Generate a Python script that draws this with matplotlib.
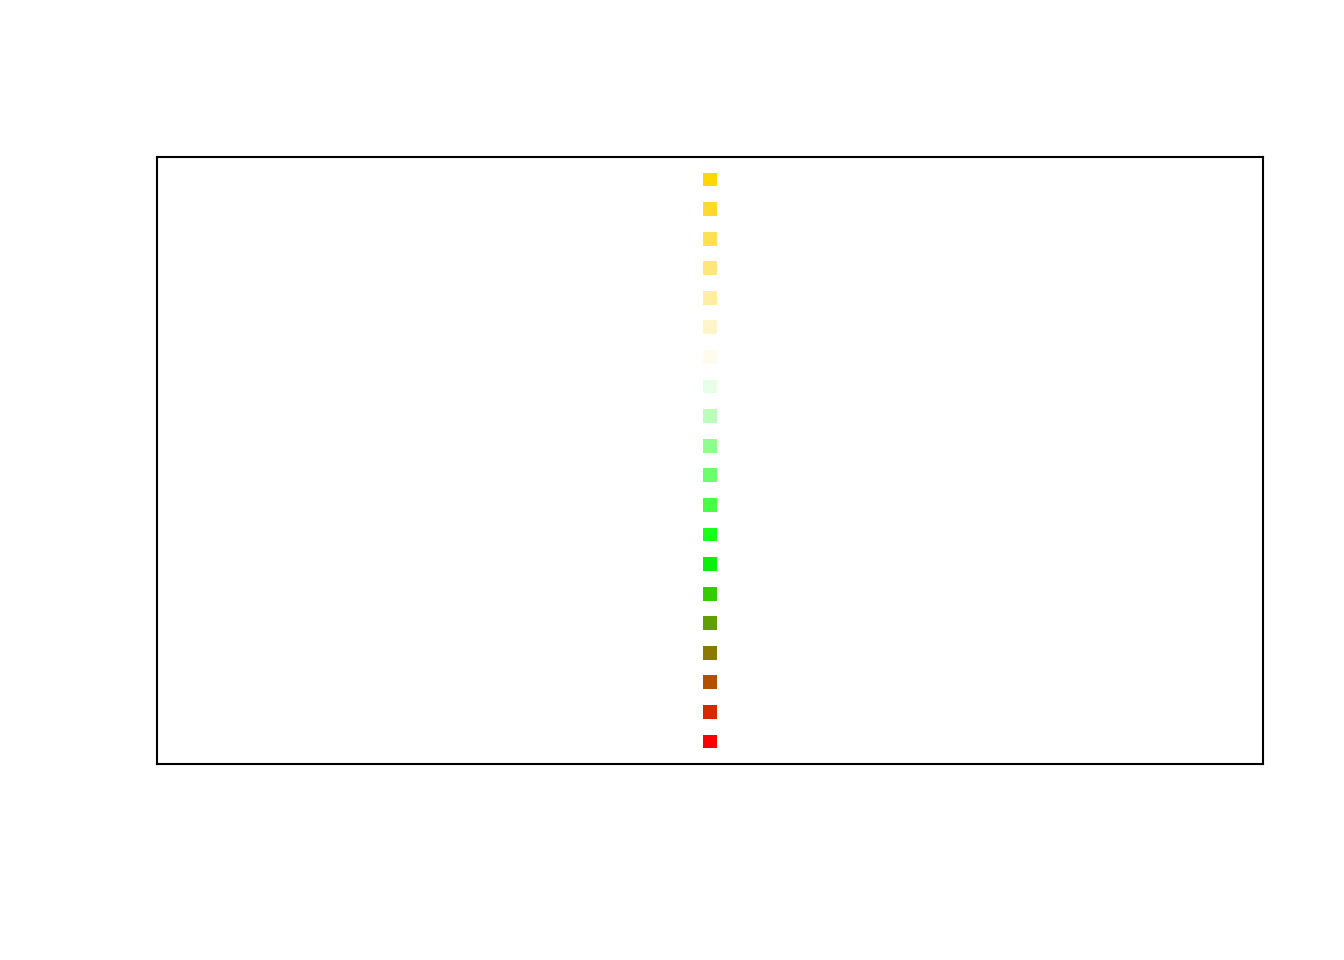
import numpy as np
import matplotlib.pyplot as plt

# colours of the swatches, top to bottom
colors = ['#FFD700', '#FFDA2B', '#FFE050', '#FFE678', '#FFEE9F',
          '#FFF5C8', '#FFFCEE', '#E6FFE6', '#BBFFBB', '#8EFF8E',
          '#6BFF6B', '#44FF44', '#1AFF1A', '#0AF00A', '#33CC00',
          '#5FA000', '#8B7A00', '#B35000', '#D82800', '#FF0000']
ypos = list(range(len(colors), 0, -1))
xpos = [1] * len(colors)

fig = plt.figure(figsize=(13.44, 9.6), dpi=100)
ax = fig.add_axes([157 / 1344, 1 - 764 / 960, 1106 / 1344, 607 / 960])

ax.scatter(xpos, ypos, c=colors, marker='s', s=10 ** 2, linewidths=0)

span = max(ypos) - min(ypos)
ax.set_ylim(min(ypos) - 0.04 * span, max(ypos) + 0.04 * span)
ax.set_xlim(0.6, 1.4)
ax.set_xticks([])
ax.set_yticks([])
for s in ax.spines.values():
    s.set_linewidth(1.5)
    s.set_color('black')

plt.savefig('out.png', dpi=100)
